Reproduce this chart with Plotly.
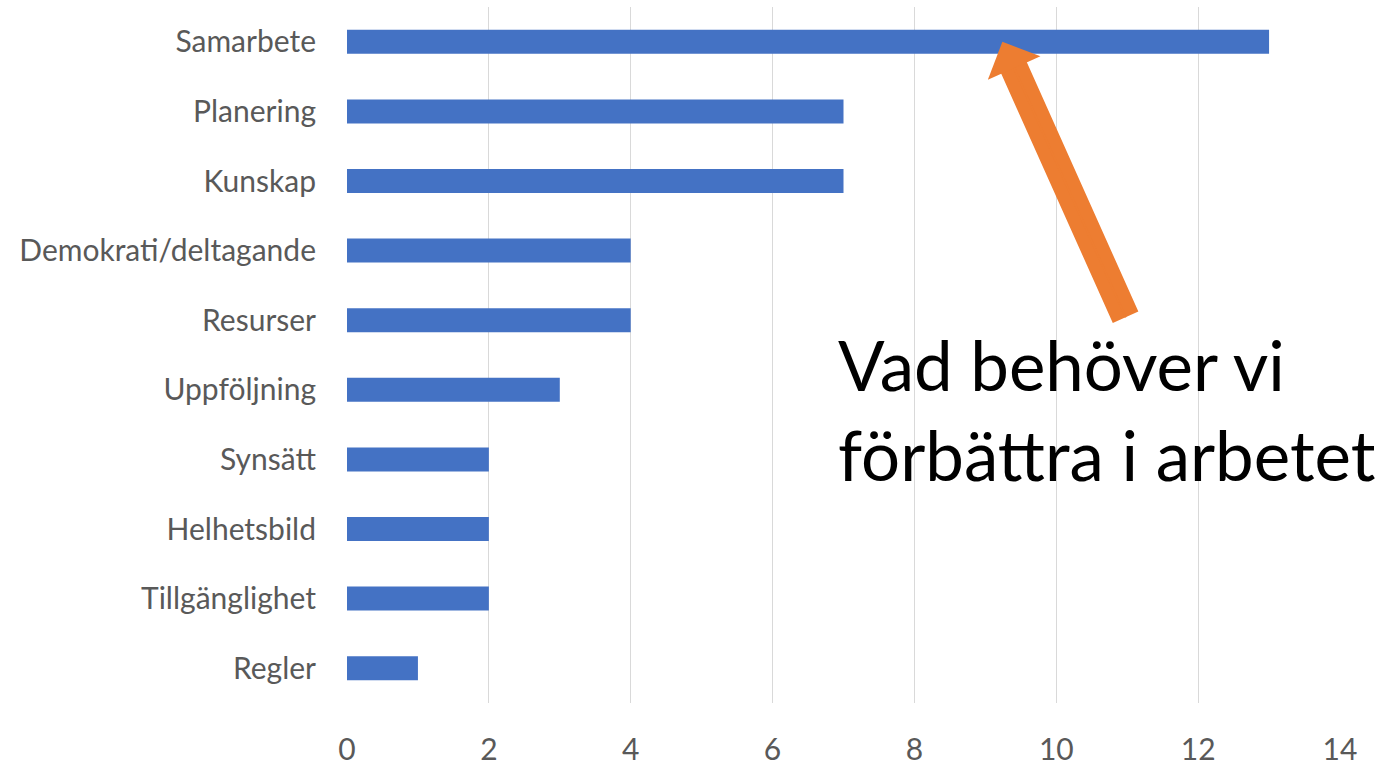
import plotly.graph_objects as go

categories = ["Samarbete", "Planering", "Kunskap", "Demokrati/deltagande", "Resurser",
              "Uppföljning", "Synsätt", "Helhetsbild", "Tillgänglighet", "Regler"]
values = [13, 7, 7, 4, 4, 3, 2, 2, 2, 1]
tick_vals = [0, 2, 4, 6, 8, 10, 12, 14]
note_lines = ["Vad behöver vi", "förbättra i arbetet"]

W, H = 1381, 765
L, R, T, B = 347, 41, 7, 62
pw, ph = W - L - R, H - T - B

def px(x):
    return (x - L) / pw

def py(y):
    return 1 - (y - T) / ph

fig = go.Figure(go.Bar(
    x=values, y=categories, orientation="h",
    marker=dict(color="#4472C4", line=dict(width=0)),
))

n = len(categories)
fig.update_layout(
    width=W, height=H,
    margin=dict(l=L, r=R, t=T, b=B, autoexpand=False),
    paper_bgcolor="white", plot_bgcolor="white",
    bargap=0.655,
    showlegend=False,
    font=dict(family="Lato", color="#595959"),
)
fig.update_xaxes(
    range=[0, 14], tickvals=tick_vals, autorange=False,
    showgrid=True, gridcolor="#D9D9D9", gridwidth=1,
    zeroline=False, showline=False,
    ticks="outside", ticklen=20, tickcolor="rgba(0,0,0,0)",
    tickfont=dict(size=30, family="Lato", color="#595959"),
)
fig.update_yaxes(
    categoryorder="array", categoryarray=categories,
    range=[n - 0.5, -0.5], autorange=False,
    showgrid=False, zeroline=False, showline=False,
    ticks="outside", ticklen=24, tickcolor="rgba(0,0,0,0)",
    tickfont=dict(size=30, family="Lato", color="#595959"),
)

ORANGE = "#ED7D31"
# Arrow shaft (thick, no head)
fig.add_annotation(
    x=9.365, y=0.287, xref="x", yref="y",
    ax=115, ay=257, axref="pixel", ayref="pixel",
    text="", showarrow=True,
    arrowhead=0, arrowwidth=28, arrowcolor=ORANGE,
)
# Arrow head (thin line, large head) pointing at the Samarbete bar
fig.add_annotation(
    x=9.24, y=0, xref="x", yref="y",
    ax=124, ay=277, axref="pixel", ayref="pixel",
    text="", showarrow=True,
    arrowhead=1, arrowsize=4.8, arrowwidth=2, arrowcolor=ORANGE,
)

# Note text
for i, line in enumerate(note_lines):
    fig.add_annotation(
        x=px(836), y=py(364 + 90 * i), xref="paper", yref="paper",
        xanchor="left", yanchor="middle",
        text=line, showarrow=False,
        font=dict(family="Lato", size=69, color="#000000"),
    )

fig.write_html(
    "out.html",
    config={"displayModeBar": False},
    post_script="document.body.style.margin='0';document.body.style.overflow='hidden';",
)
